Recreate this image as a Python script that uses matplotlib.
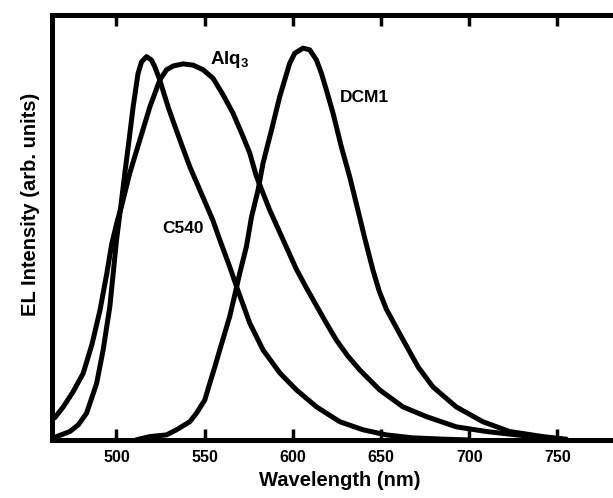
import matplotlib
matplotlib.use("Agg")
import matplotlib.pyplot as plt

plt.rcParams['font.family'] = ['Liberation Sans', 'DejaVu Sans']
plt.rcParams['mathtext.fontset'] = 'custom'
plt.rcParams['mathtext.bf'] = 'Liberation Sans:bold'
plt.rcParams['mathtext.rm'] = 'Liberation Sans:bold'

# Alq3 spectrum (wavelength nm, intensity arb. units)
alq3_wl = [463.5, 465.2, 469.9, 475.4, 481.2, 486.1, 490.7, 494.5, 497.3, 500.5, 502.9,
           507.6, 513.3, 519.0, 524.6, 528.4, 532.2, 537.8, 543.5, 549.2, 554.8, 560.5,
           566.1, 571.8, 575.6, 579.4, 586.9, 594.5, 602.0, 607.7, 613.4, 619.0, 624.7,
           631.1, 637.9, 649.2, 662.4, 675.7, 692.6, 709.6, 726.6, 741.5, 755.0]
alq3_int = [4.8, 5.3, 7.8, 11.3, 15.7, 22.4, 30.5, 39.0, 46.0, 51.5, 55.0,
            62.8, 70.6, 78.4, 84.7, 87.1, 88.0, 88.5, 88.2, 87.1, 85.1, 81.2,
            76.9, 71.4, 67.5, 62.0, 54.1, 47.1, 40.2, 35.8, 31.6, 27.5, 23.5,
            19.8, 16.5, 11.8, 7.8, 5.5, 3.1, 2.0, 1.2, 0.6, 0.2]

# C540 spectrum
c540_wl = [463.5, 466.1, 473.7, 478.5, 483.1, 488.8, 492.5, 496.3, 500.1, 502.5, 504.8,
           507.2, 509.5, 512.3, 514.3, 517.1, 519.9, 521.8, 524.6, 526.9, 529.3, 532.6,
           536.0, 541.6, 549.0, 554.6, 558.6, 564.2, 568.1, 575.6, 583.1, 592.6, 602.0,
           613.4, 626.6, 639.8, 653.0, 667.9, 685.0, 700.0]
c540_int = [0.5, 0.8, 2.0, 3.6, 6.3, 13.3, 21.2, 31.4, 47.1, 54.9, 62.8,
            70.6, 78.4, 86.3, 89.0, 90.2, 89.4, 87.8, 84.7, 81.6, 78.4, 74.5,
            70.6, 64.3, 57.2, 51.8, 47.1, 40.8, 36.1, 27.5, 21.2, 15.8, 11.8,
            7.8, 4.3, 2.4, 1.2, 0.5, 0.2, 0.0]

# DCM1 spectrum
dcm1_wl = [511.0, 519.0, 528.4, 534.1, 541.6, 545.4, 550.1, 552.9, 555.8, 558.6, 561.4,
           564.2, 567.1, 569.9, 573.7, 576.6, 580.3, 583.1, 587.9, 592.6, 595.4, 598.2,
           601.1, 605.8, 609.6, 613.4, 616.2, 619.0, 622.8, 627.5, 632.2, 636.9, 640.7,
           645.4, 649.0, 653.0, 661.5, 671.0, 679.4, 692.6, 707.7, 722.8, 741.7, 752.0]
dcm1_int = [0.0, 0.8, 1.2, 2.4, 4.3, 6.3, 9.4, 13.3, 17.2, 21.2, 25.1,
            29.0, 34.1, 39.2, 45.5, 52.5, 58.8, 65.1, 72.9, 80.8, 84.7, 88.6,
            91.0, 92.2, 91.8, 89.4, 86.3, 82.4, 76.9, 69.0, 62.0, 54.1, 47.6,
            40.0, 35.0, 30.8, 24.3, 17.2, 12.5, 7.8, 4.3, 2.0, 0.8, 0.3]

xticks = [500, 550, 600, 650, 700, 750]

fig = plt.figure(figsize=(6.13, 4.98), dpi=100)
ax = fig.add_axes([0.0848, 0.1165, 0.9397, 0.8534])

for wl, it in [(alq3_wl, alq3_int), (c540_wl, c540_int), (dcm1_wl, dcm1_int)]:
    ax.plot(wl, it, color='black', lw=3.6, solid_capstyle='round', solid_joinstyle='round')

ax.set_xlim(463.5, 790)
ax.set_ylim(0, 100)
ax.set_xticks(xticks)
ax.set_xticklabels([str(t) for t in xticks], fontsize=11.5, fontweight='bold')
ax.set_yticks([])
ax.tick_params(axis='x', direction='in', length=8, width=2.5, top=True, bottom=True, pad=7)
for s in ax.spines.values():
    s.set_linewidth(3.6)

ax.set_xlabel('Wavelength (nm)', fontsize=14.5, fontweight='bold')
ax.xaxis.set_label_coords(0.5, -0.0965)
ax.xaxis.label.set_va('center')
ax.set_ylabel('EL Intensity (arb. units)', fontsize=14.5, fontweight='bold')
ax.yaxis.set_label_coords(-0.038, 0.555)
ax.yaxis.label.set_va('center')

ax.text(553, 89.5, r'$\mathbf{Alq_3}$', fontsize=13.5, ha='left', va='center')
ax.text(626.5, 80.5, 'DCM1', fontsize=12.5, fontweight='bold', ha='left', va='center')
ax.text(525.8, 49.8, 'C540', fontsize=12.5, fontweight='bold', ha='left', va='center')

fig.savefig('out.png', dpi=100)
